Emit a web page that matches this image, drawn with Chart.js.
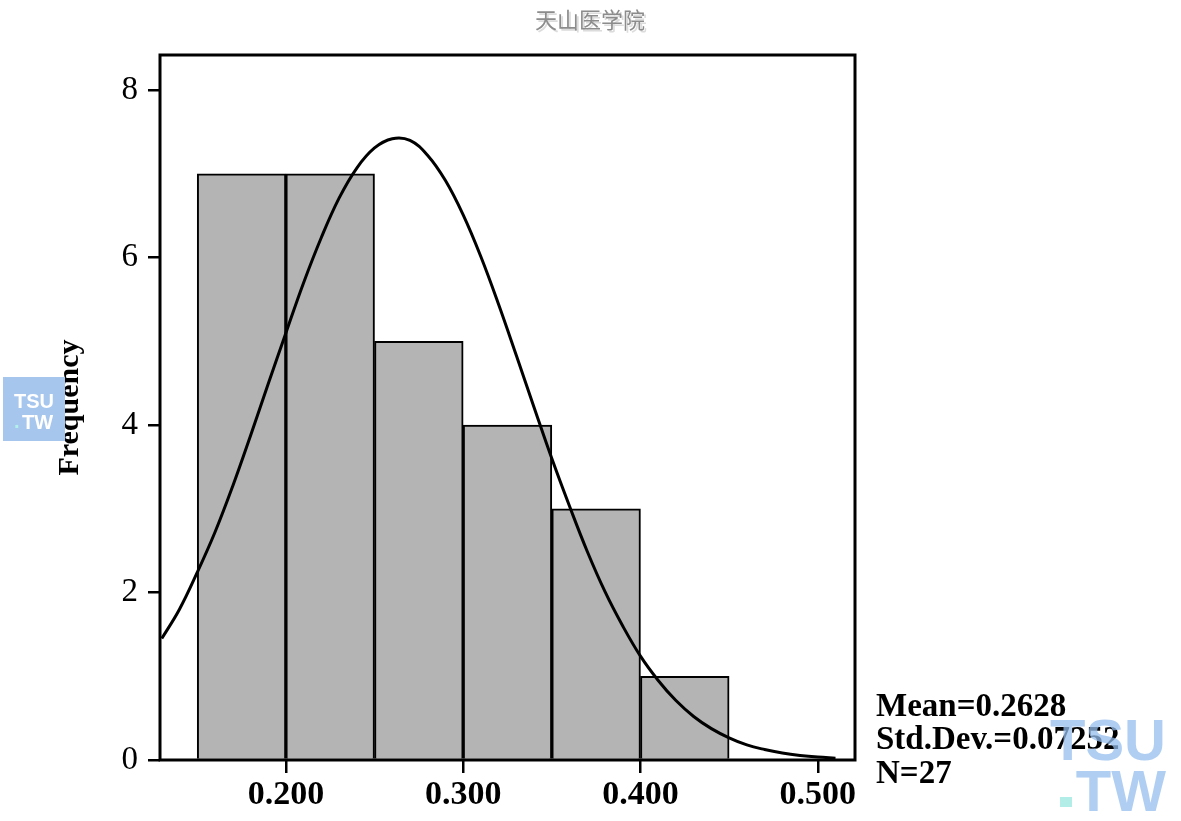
<!DOCTYPE html>
<html lang="zh">
<head>
  <meta charset="UTF-8">
  <title>Frequency histogram</title>
  <script src="https://cdn.jsdelivr.net/npm/chart.js"></script>
  <style>
    body { margin: 0; background: #fff; }
    canvas { display: block; }
  </style>
</head>
<body>
  <canvas id="histChart" width="1181" height="821"></canvas>

  <script>
    // histogram bins (left edge) and counts
    const binStarts = [0.15, 0.20, 0.25, 0.30, 0.35, 0.40];
    const binWidth = 0.05;
    const counts = [7, 7, 5, 4, 3, 1];

    // normal curve
    const curveX = [0.13, 0.14, 0.15, 0.16, 0.17, 0.18, 0.19, 0.20, 0.21, 0.22, 0.23, 0.24, 0.25,
                    0.26, 0.27, 0.28, 0.29, 0.30, 0.31, 0.32, 0.33, 0.34, 0.35, 0.36, 0.37, 0.38,
                    0.39, 0.40, 0.41, 0.42, 0.43, 0.44, 0.45, 0.46, 0.47, 0.48, 0.49, 0.50, 0.51];
    const curveY = [1.45, 1.8, 2.24, 2.72, 3.27, 3.87, 4.49, 5.10, 5.70, 6.24, 6.71, 7.07, 7.31,
                    7.42, 7.40, 7.22, 6.92, 6.51, 6.01, 5.44, 4.83, 4.21, 3.60, 3.03, 2.49, 2.01,
                    1.60, 1.24, 0.95, 0.71, 0.52, 0.375, 0.265, 0.18, 0.125, 0.084, 0.055, 0.035, 0.022];

    const xTicks = [0.2, 0.3, 0.4, 0.5];
    const yTicks = [0, 2, 4, 6, 8];
    const statLines = ['Mean=0.2628', 'Std.Dev.=0.07252', 'N=27'];

    const serif = "'Liberation Serif', 'DejaVu Serif', serif";

    const barPoints = binStarts.map((s, i) => ({ x: s + binWidth / 2, y: counts[i] }));
    const curvePoints = curveX.map((x, i) => ({ x: x, y: curveY[i] }));

    // frame, stats text and watermarks
    const extras = {
      id: 'extras',
      afterDatasetsDraw(chart) {
        const ctx = chart.ctx;
        const a = chart.chartArea;
        ctx.save();
        ctx.strokeStyle = '#000';
        ctx.lineWidth = 3;
        ctx.strokeRect(a.left, a.top, a.right - a.left, a.bottom - a.top);
        ctx.restore();
      },
      afterDraw(chart) {
        const ctx = chart.ctx;
        ctx.save();

        // stats
        ctx.fillStyle = '#000';
        ctx.font = 'bold 33px ' + serif;
        ctx.textBaseline = 'middle';
        ctx.textAlign = 'left';
        statLines.forEach((t, i) => ctx.fillText(t, 876, 707 + i * 33.5));

        // top watermark
        ctx.font = '22px "Noto Sans CJK SC"';
        ctx.textAlign = 'center';
        ctx.fillStyle = '#dcdcdc';
        ctx.fillText('天山医学院', 592, 22);
        ctx.fillStyle = '#8c8c8c';
        ctx.fillText('天山医学院', 590, 20);

        // left logo
        ctx.fillStyle = '#a6c6ee';
        ctx.fillRect(3, 377, 62, 64);
        ctx.font = 'bold 20px "Liberation Sans", sans-serif';
        ctx.fillStyle = '#fff';
        ctx.fillText('TSU', 34, 402);
        ctx.textAlign = 'left';
        ctx.fillStyle = '#b2f0ea';
        ctx.fillText('.', 14, 422);
        ctx.fillStyle = '#fff';
        ctx.fillText('TW', 22, 423);

        // bottom-right logo
        ctx.font = 'bold 58px "Liberation Sans", sans-serif';
        ctx.fillStyle = 'rgba(150,190,238,0.75)';
        ctx.textAlign = 'right';
        ctx.fillText('TSU', 1166, 744);
        ctx.fillText('TW', 1166, 795);
        ctx.fillStyle = 'rgba(170,236,228,0.9)';
        ctx.fillRect(1060, 797, 12, 10);
        ctx.restore();
      }
    };

    new Chart(document.getElementById('histChart'), {
      type: 'bar',
      data: {
        datasets: [{
          type: 'line',
          data: curvePoints,
          borderColor: '#000',
          borderWidth: 3,
          pointRadius: 0,
          tension: 0.4,
          fill: false,
          order: 0
        }, {
          type: 'bar',
          data: barPoints,
          backgroundColor: '#b4b4b4',
          borderColor: '#000',
          borderWidth: 2,
          barPercentage: 1,
          categoryPercentage: 1,
          order: 1
        }]
      },
      options: {
        responsive: false,
        animation: false,
        layout: { padding: { left: 0, top: 55, right: 326, bottom: 0 } },
        plugins: {
          legend: { display: false },
          tooltip: { enabled: false }
        },
        scales: {
          x: {
            type: 'linear',
            offset: false,
            min: 0.129,
            max: 0.521,
            afterBuildTicks: s => { s.ticks = xTicks.map(v => ({ value: v })); },
            afterFit: s => { s.height = 61; },
            border: { display: false },
            grid: { offset: false, drawOnChartArea: false, drawTicks: true, tickLength: 13, color: '#000', lineWidth: 2.5 },
            ticks: {
              color: '#000',
              font: { family: serif, size: 34, weight: 'bold' },
              padding: 2,
              maxRotation: 0,
              callback: v => v.toFixed(3)
            }
          },
          y: {
            min: 0,
            max: 8.42,
            afterBuildTicks: s => { s.ticks = yTicks.map(v => ({ value: v })); },
            afterFit: s => { s.width = 160; },
            border: { display: false },
            grid: { drawOnChartArea: false, drawTicks: true, tickLength: 12, color: '#000', lineWidth: 2.5 },
            ticks: {
              color: '#000',
              font: { family: serif, size: 33 },
              padding: 10
            },
            title: {
              display: true,
              text: 'Frequency',
              color: '#000',
              font: { family: serif, size: 30, weight: 'bold' },
              padding: { top: 52, bottom: 0 }
            }
          }
        }
      },
      plugins: [extras]
    });
  </script>
</body>
</html>
